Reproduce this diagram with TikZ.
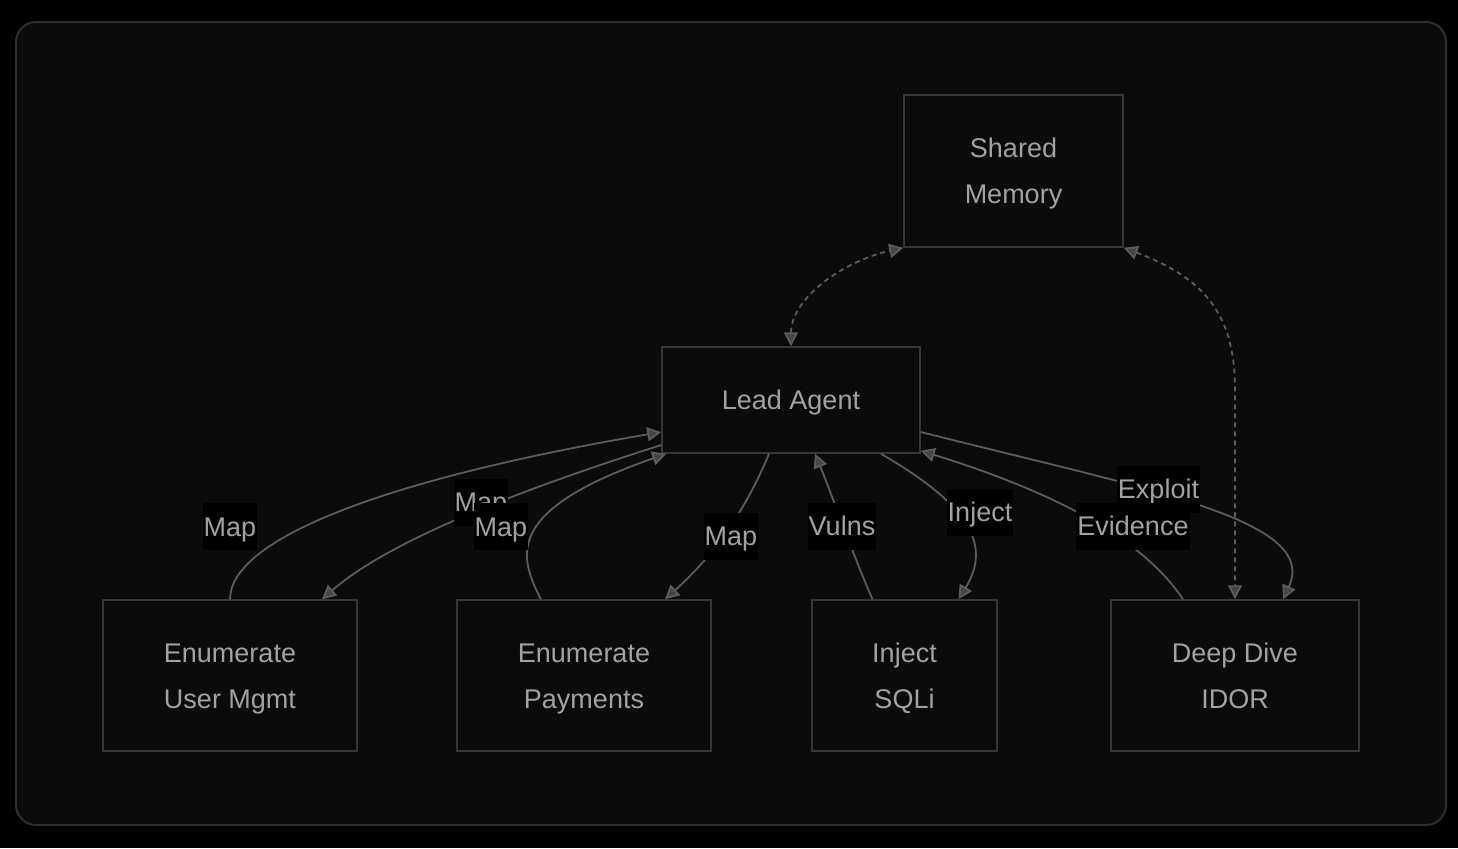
\documentclass[tikz,border=0pt]{standalone}
\usepackage{fontspec}
\setmainfont{Liberation Sans}
\usetikzlibrary{arrows.meta,calc}

\definecolor{pagebg}{HTML}{000000}
\definecolor{panelbg}{HTML}{0B0B0B}
\definecolor{panelline}{HTML}{2E2E2E}
\definecolor{boxline}{HTML}{363636}
\definecolor{edgecol}{HTML}{5C5C5C}
\definecolor{tipcol}{HTML}{454545}
\definecolor{txtcol}{HTML}{A2A2A2}

% caps centred in the box
\newcommand{\capline}[1]{\raisebox{0pt}[9.7pt][0pt]{#1}}

\tikzset{
    box/.style={draw=boxline, line width=0.75pt, fill=panelbg, text=txtcol,
        align=center, inner sep=0pt, font=\fontsize{13.5}{23}\selectfont},
    lbl/.style={fill=black, text=txtcol, inner xsep=0.6pt, inner ysep=0pt,
        minimum height=23.5pt, text height=9.7pt, text depth=0pt,
        font=\fontsize{13.5}{16}\selectfont},
    tip/.style={Triangle[length=7pt,width=7pt,fill=tipcol]},
    flow/.style={draw=edgecol, line width=0.9pt, -{Triangle[length=7pt,width=7pt,fill=tipcol]}},
    share/.style={draw=edgecol, line width=0.9pt, dash pattern=on 2.5pt off 2pt,
        {Triangle[length=7pt,width=7pt,fill=tipcol]}-{Triangle[length=7pt,width=7pt,fill=tipcol]}}
}

\begin{document}
\begin{tikzpicture}[x=0.5pt, y=-0.5pt]
    % 背景
    \fill[pagebg] (0,0) rectangle (1458,848);
    \useasboundingbox (0,0) rectangle (1458,848);
    \draw[panelline, line width=1pt, fill=panelbg, rounded corners=10pt] (16,22) rectangle (1446,825);

    % 节点
    \node[box, minimum width=109.5pt, minimum height=76pt] (mem) at (1013.5,171) {\capline{Shared}\\\capline{Memory}};
    \node[box, minimum width=129pt, minimum height=53pt] (lead) at (791,400) {\capline{Lead Agent}};
    \node[box, minimum width=127pt, minimum height=75.5pt] (enumum) at (230,675.5) {\capline{Enumerate}\\\capline{User Mgmt}};
    \node[box, minimum width=127pt, minimum height=75.5pt] (enumpay) at (584,675.5) {\capline{Enumerate}\\\capline{Payments}};
    \node[box, minimum width=92.5pt, minimum height=75.5pt] (sqli) at (904.5,675.5) {\capline{Inject}\\\capline{SQLi}};
    \node[box, minimum width=124pt, minimum height=75.5pt] (idor) at (1235,675.5) {\capline{Deep Dive}\\\capline{IDOR}};

    % 共享内存 (虚线)
    \draw[share] (lead.north) .. controls (791,300) and (840,262) .. (mem.south west);
    \draw[share] (mem.south east) .. controls (1210,280) and (1235,320) .. (1235,390) -- (idor.north);

    % 连线
    \draw[flow] (enumum.north) .. controls (230,540) and (380,480) .. ([yshift=-16pt]lead.west);
    \draw[flow] ([yshift=-22.5pt]lead.west) .. controls (520,490) and (390,540) .. ([xshift=46pt]enumum.north);
    \draw[flow] ([xshift=-21.5pt]enumpay.north) .. controls (518,555) and (505,510) .. ([xshift=2.5pt]lead.south west);
    \draw[flow] ([xshift=-11pt]lead.south) .. controls (750,500) and (720,550) .. ([xshift=40.5pt]enumpay.north);
    \draw[flow] ([xshift=-16pt]sqli.north) .. controls (855,560) and (830,490) .. ([xshift=12pt]lead.south);
    \draw[flow] ([xshift=45pt]lead.south) .. controls (960,500) and (995,540) .. ([xshift=27pt]sqli.north);
    \draw[flow] ([xshift=-26pt]idor.north) .. controls (1150,550) and (1080,500) .. ([yshift=1.5pt]lead.south east);
    \draw[flow] ([yshift=-16pt]lead.east) .. controls (1150,490) and (1320,520) .. ([xshift=24pt]idor.north);

    % 标签
    \node[lbl] (lmapa) at (230,526.5) {Map};
    \node[lbl] (lmapb) at (481,502) {Map};
    \node[lbl] (lmapc) at (501,526.5) {Map};
    \node[lbl] (lmapd) at (731,536) {Map};
    \node[lbl] (lvulns) at (842,526) {Vulns};
    \node[lbl] (linject) at (980,512) {Inject};
    \node[lbl] (lexploit) at (1158.5,489) {Exploit};
    \node[lbl] (levidence) at (1133,526) {Evidence};
\end{tikzpicture}
\end{document}
